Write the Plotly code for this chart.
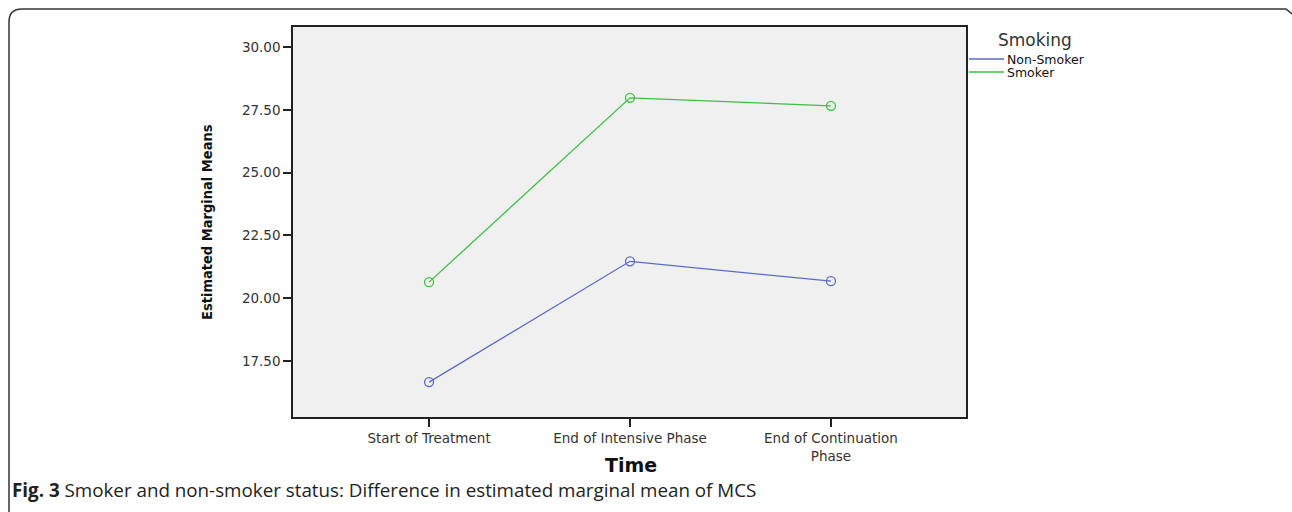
import plotly.graph_objects as go

categories = ["Start of Treatment", "End of Intensive Phase", "End of Continuation<br>Phase"]
series_names = ["Non-Smoker", "Smoker"]
non_smoker = [16.66, 21.47, 20.68]
smoker = [20.64, 27.98, 27.66]
y_ticks = [17.5, 20.0, 22.5, 25.0, 27.5, 30.0]
y_tick_labels = ["17.50", "20.00", "22.50", "25.00", "27.50", "30.00"]
colors = ["#5A6BC6", "#3FBF45"]

W, H = 1292, 512
L, R, T, B = 293, 966, 27, 417

def px(x):
    return (x - L) / (R - L)

def py(y):
    return (B - y) / (B - T)

xpos = list(range(len(categories)))

fig = go.Figure()
for name, vals, col in zip(series_names, [non_smoker, smoker], colors):
    fig.add_trace(go.Scatter(
        x=xpos, y=vals, mode="lines+markers", name=name, showlegend=False,
        line=dict(color=col, width=1.3),
        marker=dict(symbol="circle-open", size=9, color=col, line=dict(width=1.3)),
    ))

tickfont = dict(family="DejaVu Sans, Arial, sans-serif", size=13.5, color="#333333")
legfont = "DejaVu Sans, Arial, sans-serif"

annotations = [
    dict(text="<b>Estimated Marginal Means</b>", xref="paper", yref="paper",
         x=px(207), y=py(222), xanchor="center", yanchor="middle", textangle=-90,
         showarrow=False,
         font=dict(family="'Liberation Sans Narrow', 'DejaVu Sans Condensed', 'Arial Narrow', sans-serif",
                   size=14.5, color="#111111")),
    dict(text="<b>Time</b>", xref="paper", yref="paper",
         x=px(631), y=py(465), xanchor="center", yanchor="middle", showarrow=False,
         font=dict(family="DejaVu Sans, Arial, sans-serif", size=19, color="#111111")),
    dict(text="<b>Fig. 3</b> Smoker and non-smoker status: Difference in estimated marginal mean of MCS",
         xref="paper", yref="paper", x=px(10), y=py(490), xanchor="left", yanchor="middle",
         showarrow=False,
         font=dict(family="Open Sans, Noto Sans, sans-serif", size=18.8, color="#222222")),
    dict(text="Smoking", xref="paper", yref="paper", x=px(996), y=py(40),
         xanchor="left", yanchor="middle", showarrow=False,
         font=dict(family=legfont, size=17, color="#333333")),
]
shapes = [
    dict(type="path", xref="paper", yref="paper", layer="above",
         path=f"M {px(9)} {py(512)} L {px(9)} {py(22)} Q {px(9)} {py(9)} {px(22)} {py(9)} "
              f"L {px(1286)} {py(9)} L {px(1292)} {py(14)}",
         line=dict(color="#333333", width=1.5)),
]
for i, (name, col) in enumerate(zip(series_names, colors)):
    yy = 59 + 13 * i
    shapes.append(dict(type="line", xref="paper", yref="paper",
                       x0=px(969), x1=px(1004), y0=py(yy), y1=py(yy),
                       line=dict(color=col, width=1.3)))
    annotations.append(dict(text=name, xref="paper", yref="paper", x=px(1005), y=py(yy),
                            xanchor="left", yanchor="middle", showarrow=False,
                            font=dict(family=legfont, size=12.5, color="#111111")))

fig.update_layout(
    width=W, height=H,
    margin=dict(l=L, r=W - R, t=T, b=H - B),
    paper_bgcolor="white",
    plot_bgcolor="#F0F0F0",
    showlegend=False,
    xaxis=dict(
        range=[-0.677, 2.672], tickmode="array", tickvals=xpos, ticktext=categories,
        showgrid=False, zeroline=False, showline=True, linecolor="#222222", linewidth=1.5,
        mirror=True, ticks="outside", ticklen=8, tickcolor="#222222", tickwidth=1.5,
        tickfont=tickfont,
    ),
    yaxis=dict(
        range=[15.27, 30.80], tickmode="array", tickvals=y_ticks, ticktext=y_tick_labels,
        showgrid=False, zeroline=False, showline=True, linecolor="#222222", linewidth=1.5,
        mirror=True, ticks="outside", ticklen=8, tickcolor="#222222", tickwidth=1.5,
        tickfont=tickfont,
    ),
    annotations=annotations,
    shapes=shapes,
)

fig.write_html("out.html", config={"displayModeBar": False},
               post_script="document.body.style.margin='0';document.body.style.overflow='hidden';")
